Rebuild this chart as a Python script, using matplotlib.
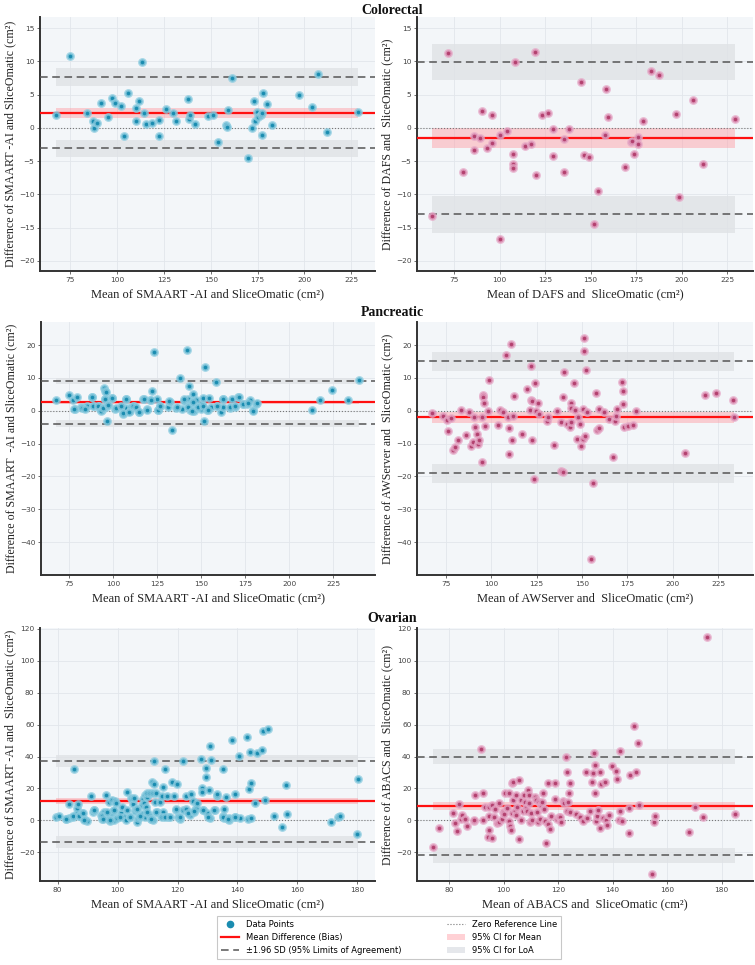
import matplotlib
matplotlib.use("Agg")
import matplotlib.pyplot as plt
from matplotlib.lines import Line2D
from matplotlib.patches import Patch

# ---------------- data ----------------
cr_ai_x = [67.2, 75, 84.1, 87.3, 87.8, 89.4, 91.5, 94.9, 97.1, 98.8, 102.2, 103.6, 105.9, 110.2, 110.2,
           111.7, 113.1, 114.5, 115.4, 118.6, 122.5, 122.5, 126.2, 130, 131.2, 137.6, 138.2, 138.7, 141.5,
           148.5, 151.3, 153.6, 157.9, 158.5, 159.2, 161.5, 169.8, 172, 173, 173.4, 174.8, 175.4, 176.8,
           177.1, 177.3, 178, 179.8, 182.8, 196.9, 204, 207, 212.2, 228.6]
cr_ai_y = [2.0, 10.9, 2.2, 1.1, 0.05, 0.7, 3.7, 1.7, 4.5, 3.8, 3.3, -1.2, 5.3, 3.0, 1.0,
           4.0, 9.95, 2.3, 0.55, 0.8, 1.2, -1.2, 2.8, 2.3, 1.1, 4.3, 1.35, 1.9, 0.65,
           1.75, 2.0, -2.1, 0.5, 0.2, 2.7, 7.5, -4.6, 0.0, 4.1, 1.0, 2.4, 1.6, 1.9,
           -1.05, 2.3, 5.3, 3.6, 0.45, 4.9, 3.1, 8.1, -0.6, 2.4]

cr_dafs_x = [63.05, 71.9, 80, 86.2, 86.2, 89.2, 90.4, 93, 96, 96.1, 100.2, 100.2, 104.2, 107.4, 107.5,
             107.5, 108.6, 113.9, 117.3, 119.5, 120.2, 123.2, 126.5, 129.2, 129.6, 135.3, 135.5, 138,
             145, 146.5, 149.4, 151.8, 153.9, 158.1, 158.6, 159.4, 169.1, 172.4, 172.6, 173.7, 175.9,
             176.1, 178.9, 183.3, 187.9, 196.7, 198.7, 206.4, 211.6, 229.6]
cr_dafs_y = [-13.3, 11.3, -6.7, -1.2, -3.4, -1.5, 2.6, -3.1, 2.0, -2.3, -1.1, -16.8, -0.4, -4.0, -5.4,
             -6.0, 9.9, -2.7, -2.4, 11.5, -7.1, 1.9, 2.2, -4.3, -0.1, -1.6, -6.7, -0.1,
             6.9, -4.1, -4.4, -14.5, -9.5, -1.0, 5.9, 1.6, -5.9, -2.1, -1.9, -3.9, -1.4,
             -2.5, 1.0, 8.5, 7.9, 2.1, -10.4, 4.2, -5.4, 1.3]

pa_ai_x = [67.8, 75, 77.1, 78.2, 79.5, 81.8, 84.1, 85.4, 87.9, 89.2, 92, 92.6, 93.9, 94.9, 95.2, 95.4,
           95.8, 96, 96.8, 97.3, 99.2, 101.1, 104.9, 105.5, 107.2, 107.3, 109.4, 110, 111.9, 114.9,
           117.2, 119.3, 121, 122.3, 123, 124.9, 125.5, 126.6, 131.4, 132.3, 133.6, 135.7, 138, 138.9,
           140.3, 141.8, 142.3, 142.9, 143.1, 143.5, 145, 145.6, 146.1, 147.1, 147.8, 150, 150.5, 151.1,
           151.6, 152, 153.5, 154.3, 155.4, 158.4, 159, 161.1, 162.2, 162.6, 166.4, 167.5, 169.4, 170.9,
           173.5, 176.2, 177.7, 179.2, 181.1, 212.7, 217.4, 224.2, 233.1, 239.4,
           78, 82.2, 84.1, 87.9, 88.8, 91.6, 93.1, 94.5, 95.4, 97.3, 99.2, 101.7, 104.5, 105.5, 107.3,
           109.2, 111.1, 112.8, 114.7, 117.7, 119.4, 121.3, 125.6, 126.6, 131.9, 136.1, 140.2, 142.7,
           144.6, 145.5, 148.4, 151.2, 154.1, 158.8, 162.2, 166.4, 169.2, 171.7, 174, 176.8, 179.7, 181.6]
pa_ai_y = [3.4, 4.8, 3.4, 0.6, 4.1, 1.0, 1.0, 1.4, 4.1, 1.4, 1.4, 0.5, 0.1, 6.9, 6.0, 3.7,
           1.0, 5.8, -3.0, 1.6, 4.0, 0.6, 1.2, -1.0, 3.6, 0.9, -0.1, 1.0, 1.3, -0.4,
           3.7, 0.5, 3.4, 6.1, 17.9, 3.6, 0.2, 1.4, 1.1, 2.8, -6.0, 0.7, 9.9, 0.4,
           3.1, 18.6, 3.6, 7.5, 1.4, 0.2, 2.8, 5.1, -0.1, 3.2, 1.0, 0.4, 2.0, 3.9,
           -3.1, 13.2, 0.2, 4.0, 1.2, 8.8, 1.4, -0.4, 1.2, 3.6, 0.9, 3.6, 1.2, 4.3,
           2.0, 2.0, 3.4, 0.2, 2.0, 0.1, 3.4, 6.3, 3.2, 9.3,
           0.6, 0.8, 0.4, 4.3, 1.4, 1.4, -0.1, 0.9, 3.7, 1.7, 4.0, 0.7, 1.4, -0.8, 3.7,
           -0.3, 1.4, 1.2, -0.4, 3.7, 0.2, 3.3, 0.2, 1.4, 3.0, 1.0, 3.7, 1.2,
           0.0, 2.7, 1.2, 1.4, 0.2, 1.4, 3.7, 1.2, 1.4, 4.3, 2.1, 2.3, 0.0, 2.3]

pa_aw_x = [67.4, 73.2, 75.7, 76.1, 78, 79.2, 79.8, 81.6, 83.1, 86.1, 87.5, 89, 89.7, 90.5, 91.2, 92,
           92.9, 93.1, 94.9, 94.9, 95.3, 95.6, 95.8, 96.4, 98.2, 98.6, 103.9, 105, 106.5, 108, 109.5,
           109.8, 109.8, 110.9, 111.5, 112, 112.8, 117, 119.8, 121.2, 121.8, 122, 122.2, 122.4, 123.6,
           124.2, 124.4, 126, 126.4, 130.5, 131.2, 134.5, 136.4, 138.4, 138.4, 139.5, 139.5, 140.1,
           141.9, 143.2, 143.7, 143.7, 143.9, 145.6, 145.9, 147.4, 148, 148.9, 149.3, 150.4, 150.7,
           150.9, 151.1, 151.7, 152.4, 152.6, 155.9, 154.8, 157.7, 158.5, 159.2, 159.6, 162, 164.7,
           166.8, 168.4, 169, 169.4, 172.1, 172.5, 172.7, 173.4, 175.1, 178, 180, 206.6, 218, 223.7,
           233, 234]
pa_aw_y = [-0.6, -1.7, -2.8, -6.1, -2.1, -12.1, -10.9, -8.8, 0.2, -7.4, -0.3, -10.6, -9.4, -1.9, -5.1, -7.2,
           -10.1, -8.9, -15.5, -2.0, 4.8, 4.1, 2.4, -4.5, -0.1, 9.3, -4.4, 0.2, -0.4, 17.0, -2.0,
           -5.3, -13.2, 20.2, -8.8, -1.6, 4.5, -7.0, 6.7, 0.2, 13.6, 3.4, -9.0, 3.1, -20.8,
           8.3, -0.2, 2.5, -1.0, -3.1, -1.8, -10.5, -0.1, -18.2, -3.3, -18.7, 4.3, 11.7,
           -3.9, -5.1, 2.5, 0.8, -3.4, 8.5, 0.2, -8.7, -1.8, -4.1, -10.7, -8.6, 0.5,
           22.0, 18.1, -7.7, 12.5, -0.4, -22.0, -45.2, 5.3, -6.0, 0.5, -5.4, -0.4, -2.5,
           -14.0, -3.2, -1.6, 0.5, 8.6, 6.1, 2.0, -4.9, -4.7, -4.2, -0.1, -12.9, 4.9, 5.3,
           3.2, -2.0]

ov_ai_x = [79.3, 80.4, 82.7, 83.8, 83.9, 85.2, 85.6, 86.3, 86.6, 86.7, 87.1, 88.2, 88.8, 89.7, 91.2, 91.9,
           92.2, 94.6, 94.9, 95.4, 96.1, 96.5, 96.9, 97, 97.5, 98, 98.1, 98.6, 98.8, 99.1, 99.5, 99.7,
           101, 101.4, 102.1, 102.8, 103.1, 104.1, 104.5, 104.7, 105, 105.5, 105.9, 106.1, 106.5, 106.8,
           107.5, 108, 108.3, 108.6, 108.9, 109.1, 109.3, 109.5, 109.8, 109.9, 110.4, 110.9, 111.3,
           111.6, 111.8, 111.9, 112.1, 112.3, 112.4, 112.8, 113.1, 114.1, 114.5, 114.8, 115.3, 115.3,
           115.9, 116.4, 116.7, 118.3, 118.8, 119.4, 119.9, 120.3, 120.9, 121.9, 121.9, 122.9, 123.4,
           124.2, 124.6, 125.2, 125.6, 126.2, 127.8, 128, 128.3, 128.5, 129.5, 129.5, 129.9, 130.5,
           130.7, 130.8, 131.3, 132.4, 133.1, 133.3, 135.1, 135.1, 135.5, 135.6, 136.3, 137.2, 137.3,
           138.2, 139.2, 139.3, 140.6, 140.8, 143.1, 143.4, 144, 144.2, 144.4, 144.6, 146, 146.6,
           148.3, 148.5, 149.2, 150.1, 152.2, 154.8, 156.3, 156.6, 171.2, 173.5, 174.3, 180.1, 179.9,
           82.8, 85, 87.2, 88.5, 88.9, 92.2, 94.9, 95.2, 96.3, 97.4, 98.8, 100.8, 103.2, 104.1, 106.4,
           107.5, 109.7, 111.1, 112.8, 114.7, 115.8, 117.4, 119.4, 120.8, 122.7, 123.6, 125.5, 126.4,
           128.6, 130.3, 132.3, 135.1, 137, 139.2]
ov_ai_y = [2.1, 2.5, 0.6, 10.4, 1.3, 2.3, 32.2, 4.6, 7.7, 10, 2.7, 4.4, 0.8, -0.2, 15.3, 5.0,
           6.5, 3.3, 0.8, 5.0, 15.7, 3.8, 1.0, 11.3, -0.6, 12.7, 4.8, 6.1, 0.2, 12.3, 10.7, 1.3,
           4.4, 8.6, 2.3, 0.4, 18, 2.3, 13.8, 13.2, 10.2, 14.2, 5.8, 7.1, -1.0, 1.3,
           2.3, 9.4, 4.0, 13.2, 10.7, 2.3, 16.1, 8.6, 14.8, 17.3, 3.1, 17.1, 1.0,
           24, 17.3, 0.4, 37.4, 22.6, 11.7, 17.1, 5.0, 11.7, 2.7, 15.5, 5.2, 21.1,
           32.4, 15.3, 2.3, 23.8, 15.3, 6.5, 22.6, 2.1, 1.0, 37.0, 6.5, 15.3, 5.2,
           3.3, 16.5, 11.9, 5.2, 7.7, 38.4, 20.5, 18, 6.5, 32.8, 27.4, 4.4, 19,
           46.4, 1.5, 37.8, 6.5, 15.5, 16.5, 32.4, 2.9, 6.9, 1.3, 14.8, 0, 1.5,
           50.4, 16.5, 1.9, 40.5, 1.3, 52.4, 0.6, 19.4, 43, 23.6, 1.5, 10.7, 42,
           44.1, 56.2, 12.7, 57.3, 2.9, -4, 21.9, 4.0, -1.3, 1.9, 2.9, 25.7, -8.6,
           0.8, 2.9, 2.9, 4.6, 0.4, 6.7, 2.9, 0.8, 5.0, 0, 6.3, 2.1, 6.3, 1.9, 7.3,
           2.9, 5.2, 1.0, 5.2, 1.9, 2.1, 2.1, 7.1, 2.1, 7.1, 4.6, 5.6, 10.9,
           6.7, 2.1, 6.7, 2.1, 0.8, 2.1]

ov_abacs_x = [74.2, 76.1, 81.3, 82.2, 82.9, 83.7, 84.3, 84.7, 85.9, 86.6, 89.1, 89.3, 89.6, 91.7, 92.3,
              92.6, 93, 94.2, 94.5, 94.6, 94.8, 95.9, 95.9, 96.3, 96.9, 97.5, 98.2, 98.4, 99.4, 99.8,
              100.1, 100.6, 101.3, 101.8, 102.1, 102.3, 102.6, 102.9, 103.1, 103.3, 103.4, 104, 104.5,
              104.7, 104.9, 105.6, 105.8, 106.3, 106.5, 107, 107.6, 108, 108.2, 108.5, 109, 109.2, 109.4,
              109.7, 109.9, 110.4, 111.4, 111.9, 112.4, 112.6, 112.9, 113.4, 113.7, 114.1, 114.5, 114.7,
              115.1, 115.6, 116.1, 116.4, 116.9, 117.5, 118.8, 119, 119.5, 120.2, 120.6, 121.1, 121.7,
              122.3, 122.9, 123.1, 123.3, 123.7, 124, 124.2, 124.3, 126.4, 128.1, 129.1, 130.1, 130.7,
              131.8, 132.6, 132.8, 133.1, 133.5, 133.7, 134, 134.2, 134.5, 135.2, 135.3, 135.9, 136.3,
              137.2, 137.7, 138, 138.5, 139.8, 141.2, 141.5, 142.5, 142.7, 142.8, 143.3, 145.9, 146.1,
              146.4, 147.9, 148.6, 149.3, 149.7, 155, 154.4, 155.5, 167.9, 170.3, 173, 174.5, 184.9]
ov_abacs_y = [-16.9, -4.8, 4.8, -1.5, -6.9, 10.4, 0.8, 3.3, 0.6, -3.6, -0.6, 0.2, 15.9, 44.7, 17.3,
              0, 8.6, -10.2, 8.6, -6.1, 2.9, -10.9, 9.4, 2.3, 7.3, -1.9, -1.0, 10.9, 1.0, 5.4,
              4.0, 16.9, 7.5, -0.6, 16.9, -3.3, -6.1, 4.8, 23.2, 12.7, 23.8, 5.9, 15.9,
              3.6, 8.6, 25.3, -11.7, 12.7, 0.2, 5.9, 15.9, 11.3, 7.5, 5.9, 19, 15.9, 10.7,
              -1.0, 4.4, 0.2, 14.8, 12.7, 5.4, -1.0, 11.7, 1.0, 9.4, 11.7, 16.9, 7.3,
              -0.2, -14.4, 23.2, -2.5, -5.6, 2.9, 23.2, 13.2, 0.6, 2.3, 2.3, -1.0, 12.3,
              10.7, 39.9, 30.3, 5.6, 11.3, 16.9, 23.2, 5.4, 4.0, 2.3, -0.2, 30.5, 1.3,
              6.1, 24.2, 29.5, 42, 34.7, 17.3, -0.2, 2.9, 6.5, 30.5, -4.8, 23.0, 1.3,
              24, 0.2, -2.9, 3.6, 33.8, 30.9, 25.9, 0.2, 5.9, 43.5, -0.2, 7.5, -7.7,
              28.6, 59.3, 30.1, 48.5, 9.8, -1.3, -33.6, 2.9, -7.3, 8.1, 1.9, 115.1, 3.8]

# statistics: bias, LoA, and CI bands (low, high)
cr_ai_stats = dict(bias=2.3, loa=(-3.1, 7.7), ci_bias=(1.5, 3.0), ci_up=(6.3, 9.0), ci_lo=(-4.4, -1.8))
cr_dafs_stats = dict(bias=-1.5, loa=(-13.0, 9.9), ci_bias=(-3.1, 0.0), ci_up=(7.2, 12.7), ci_lo=(-15.8, -10.2))
pa_ai_stats = dict(bias=2.6, loa=(-4.0, 9.1), ci_bias=(2.0, 3.1), ci_up=(8.1, 10.1), ci_lo=(-5.1, -2.9))
pa_aw_stats = dict(bias=-2.0, loa=(-19.0, 15.0), ci_bias=(-3.85, -0.3), ci_up=(12.1, 17.9), ci_lo=(-22.0, -16.2))
ov_ai_stats = dict(bias=12.1, loa=(-13.4, 37.4), ci_bias=(10.0, 14.2), ci_up=(33.6, 41.0), ci_lo=(-17.1, -9.8))
ov_abacs_stats = dict(bias=9.0, loa=(-21.9, 39.9), ci_bias=(6.5, 11.7), ci_up=(35.3, 44.5), ci_lo=(-26.5, -17.3))

row_titles = ["Colorectal", "Pancreatic", "Ovarian"]

# ---------------- style ----------------
SERIF = ["Liberation Serif", "DejaVu Serif"]
BLUE, BLUE_HALO = "#1a8cb0", (0.55, 0.80, 0.88, 0.75)
PINK, PINK_HALO = "#b3416f", (0.90, 0.66, 0.78, 0.75)
BG = "#f3f6f9"

fig = plt.figure(figsize=(7.55, 9.65), dpi=100)
W, H = 755.0, 965.0

def ax_at(x0, top, x1, bottom):
    return fig.add_axes([x0 / W, 1 - bottom / H, (x1 - x0) / W, (bottom - top) / H])

panels = [
    (cr_ai_x, cr_ai_y, cr_ai_stats, BLUE, BLUE_HALO, (58.8, 237.7), (-21.55, 16.7),
     range(75, 226, 25), range(-20, 16, 5),
     "Mean of SMAART -AI and SliceOmatic (cm²)", "Difference of SMAART -AI and SliceOmatic (cm²)",
     (40, 17, 375, 271)),
    (cr_dafs_x, cr_dafs_y, cr_dafs_stats, PINK, PINK_HALO, (54.6, 239.3), (-21.55, 16.7),
     range(75, 226, 25), range(-20, 16, 5),
     "Mean of DAFS and  SliceOmatic (cm²)", "Difference of DAFS and  SliceOmatic (cm²)",
     (417, 17, 753, 271)),
    (pa_ai_x, pa_ai_y, pa_ai_stats, BLUE, BLUE_HALO, (59.1, 248.7), (-50, 27),
     range(75, 226, 25), range(-40, 21, 10),
     "Mean of SMAART -AI and SliceOmatic (cm²)", "Difference of SMAART  -AI and SliceOmatic (cm²)",
     (41, 322, 375, 575)),
    (pa_aw_x, pa_aw_y, pa_aw_stats, PINK, PINK_HALO, (59.1, 244.2), (-50, 27),
     range(75, 226, 25), range(-40, 21, 10),
     "Mean of AWServer and  SliceOmatic (cm²)", "Difference of AWServer and  SliceOmatic (cm²)",
     (417, 322, 753, 575)),
    (ov_ai_x, ov_ai_y, ov_ai_stats, BLUE, BLUE_HALO, (74.1, 185.9), (-38, 120.6),
     range(80, 181, 20), range(-20, 121, 20),
     "Mean of SMAART -AI and SliceOmatic (cm²)", "Difference of SMAART -AI and  SliceOmatic (cm²)",
     (40, 628, 375, 881)),
    (ov_abacs_x, ov_abacs_y, ov_abacs_stats, PINK, PINK_HALO, (68.2, 191.5), (-38, 120.6),
     range(80, 181, 20), range(-20, 121, 20),
     "Mean of ABACS and  SliceOmatic (cm²)", "Difference of ABACS and  SliceOmatic (cm²)",
     (417, 628, 753, 881)),
]

for (xs, ys, st, dot, halo, xlim, ylim, xt, yt, xl, yl, box) in panels:
    ax = ax_at(*box)
    ax.set_facecolor(BG)
    xmin, xmax = min(xs), max(xs)
    ax.fill_between([xmin, xmax], *st["ci_up"], color="#dfe2e6", alpha=0.8, lw=0, zorder=1)
    ax.fill_between([xmin, xmax], *st["ci_lo"], color="#dfe2e6", alpha=0.8, lw=0, zorder=1)
    ax.fill_between([xmin, xmax], *st["ci_bias"], color="#ff9aa2", alpha=0.45, lw=0, zorder=1)
    ax.axhline(0, color="#777777", ls=":", lw=0.8, zorder=2)
    ax.axhline(st["bias"], color="#ff1010", lw=1.6, zorder=3)
    for v in st["loa"]:
        ax.axhline(v, color="#555555", ls=(0, (5, 3)), lw=1.1, zorder=3)
    ax.scatter(xs, ys, s=20, c=dot, edgecolors=[halo], linewidths=1.9, zorder=4)
    ax.set_xlim(*xlim)
    ax.set_ylim(*ylim)
    ax.set_xticks(list(xt))
    ax.set_yticks(list(yt))
    ax.grid(True, color="#e2e6eb", lw=0.6, zorder=0)
    ax.set_axisbelow(True)
    for s in ("top", "right"):
        ax.spines[s].set_visible(False)
    for s in ("left", "bottom"):
        ax.spines[s].set_color("#333333")
        ax.spines[s].set_linewidth(1.4)
    ax.tick_params(labelsize=5.3, labelcolor="#444444", color="#555555", length=2, width=0.6, pad=2)
    ax.set_xlabel(xl, family=SERIF, fontsize=9, color="#222222", labelpad=4)
    ax.set_ylabel(yl, family=SERIF, fontsize=8.6, color="#222222", labelpad=2)

for title, ypix in zip(row_titles, [10, 313, 618]):
    fig.text(0.52, 1 - ypix / H, title, ha="center", va="center", family=SERIF,
             fontsize=10, fontweight="bold", color="#111111")

handles = [
    Line2D([], [], marker="o", ls="", color=BLUE, markersize=4.5, label="Data Points"),
    Line2D([], [], color="#ff1010", lw=1.6, label="Mean Difference (Bias)"),
    Line2D([], [], color="#555555", ls=(0, (5, 3)), lw=1.1, label="±1.96 SD (95% Limits of Agreement)"),
    Line2D([], [], color="#777777", ls=":", lw=0.8, label="Zero Reference Line"),
    Patch(facecolor="#ff9aa2", alpha=0.45, label="95% CI for Mean"),
    Patch(facecolor="#dfe2e6", alpha=0.8, label="95% CI for LoA"),
]
leg = fig.legend(handles=handles, loc="center", bbox_to_anchor=(389 / W, 1 - 937.5 / H), ncol=2,
                 fontsize=6, frameon=True, columnspacing=5.5, handlelength=2.2, labelspacing=0.45,
                 borderpad=0.5, fancybox=False)
leg.get_frame().set_edgecolor("#bbbbbb")
leg.get_frame().set_linewidth(0.8)

fig.savefig("out.png", dpi=100)
